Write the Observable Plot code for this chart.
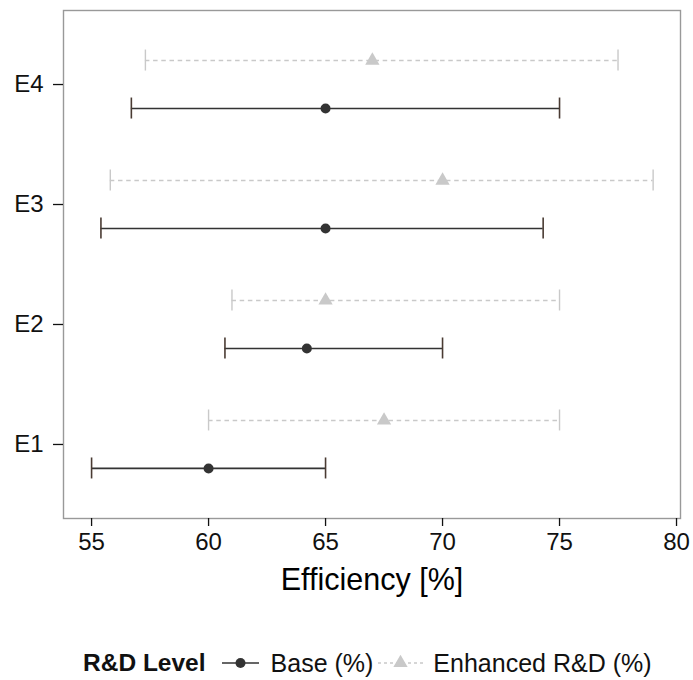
<!DOCTYPE html>
<html>
<head>
<meta charset="utf-8">
<script src="https://cdn.jsdelivr.net/npm/d3@7"></script>
<script src="https://cdn.jsdelivr.net/npm/@observablehq/plot@0.6"></script>
<style>
  html, body { margin: 0; padding: 0; background: #fff; }
  body { width: 693px; height: 680px; overflow: hidden; font-family: "Liberation Sans", Arial, sans-serif; }
  #legend { display: flex; align-items: center; height: 30px; margin-top: 38px; padding-left: 83px; font-size: 25px; color: #111; white-space: nowrap; }
  #legend b { margin-right: 16px; font-size: 24.5px; }
  #legend svg { display: block; }
</style>
</head>
<body>
<div id="chart"></div>
<div id="legend"></div>
<script>
// ---- data ----
const categories = ["E1", "E2", "E3", "E4"];
const series = ["Base (%)", "Enhanced R&D (%)"];
const baseMid = [60, 64.2, 65, 65];
const baseLo  = [55, 60.7, 55.4, 56.7];
const baseHi  = [65, 70, 74.3, 75];
const enhMid  = [67.5, 65, 70, 67];
const enhLo   = [60, 61, 55.8, 57.3];
const enhHi   = [75, 75, 79, 77.5];
const xTicks  = [55, 60, 65, 70, 75, 80];
const axisTitle = "Efficiency [%]";
const legendTitle = "R&D Level";

// ---- styling ----
const colBase = "#333333";
const colEnh = "#c9c9c9";
const dodge = 0.2;      // vertical dodge (in category units)
const capHalf = 0.0875; // half cap height (in category units)

const rows = [];
categories.forEach((c, i) => {
  rows.push({cat: c, pos: i + 1 - dodge, series: series[0], mid: baseMid[i], lo: baseLo[i], hi: baseHi[i]});
  rows.push({cat: c, pos: i + 1 + dodge, series: series[1], mid: enhMid[i], lo: enhLo[i], hi: enhHi[i]});
});
const base = rows.filter(d => d.series === series[0]);
const enh = rows.filter(d => d.series === series[1]);

const caps = s => s.flatMap(d => [{x: d.lo, pos: d.pos}, {x: d.hi, pos: d.pos}]);

const chart = Plot.plot({
  width: 693,
  height: 610,
  marginTop: 10,
  marginBottom: 92,
  marginLeft: 63,
  marginRight: 13,
  style: {fontFamily: "'Liberation Sans', Arial, sans-serif", background: "#fff"},
  x: {domain: [53.8, 80.17]},
  y: {domain: [0.383, 4.617]},
  marks: [
    Plot.frame({stroke: "#999", strokeWidth: 1.4}),
    Plot.axisX({ticks: xTicks, tickSize: 8, tickPadding: 6, fontSize: 24, label: null, stroke: "#111", fill: "#111", strokeWidth: 1.3}),
    Plot.axisY({ticks: categories.map((c, i) => i + 1), tickFormat: d => categories[d - 1], tickSize: 10, tickPadding: 10, fontSize: 24, label: null, stroke: "#111", fill: "#111", strokeWidth: 1.3}),
    // enhanced series (dashed, light grey)
    Plot.ruleY(enh, {y: "pos", x1: "lo", x2: "hi", stroke: colEnh, strokeWidth: 1.6, strokeDasharray: "4.5,3.7"}),
    Plot.ruleX(caps(enh), {x: "x", y1: d => d.pos - capHalf, y2: d => d.pos + capHalf, stroke: colEnh, strokeWidth: 1.4}),
    Plot.dot(enh, {x: "mid", y: "pos", symbol: "triangle", r: 5.3, fill: colEnh, stroke: "none"}),
    // base series (solid, dark)
    Plot.ruleY(base, {y: "pos", x1: "lo", x2: "hi", stroke: colBase, strokeWidth: 1.7}),
    Plot.ruleX(caps(base), {x: "x", y1: d => d.pos - capHalf, y2: d => d.pos + capHalf, stroke: "#4a3b33", strokeWidth: 1.6}),
    Plot.dot(base, {x: "mid", y: "pos", symbol: "circle", r: 5, fill: colBase, stroke: "none"}),
    // axis title
    Plot.text([axisTitle], {frameAnchor: "bottom", dy: 62, fontSize: 30.5, fill: "#000", lineAnchor: "middle"})
  ]
});
document.getElementById("chart").appendChild(chart);

// ---- legend ----
const legend = document.getElementById("legend");
const t = document.createElement("b");
t.textContent = legendTitle;
legend.appendChild(t);

function glyph(kind, w) {
  const ns = "http://www.w3.org/2000/svg";
  const s = document.createElementNS(ns, "svg");
  s.setAttribute("width", w); s.setAttribute("height", 20);
  const l = document.createElementNS(ns, "line");
  l.setAttribute("x1", 0); l.setAttribute("x2", w); l.setAttribute("y1", 10); l.setAttribute("y2", 10);
  l.setAttribute("stroke", kind === 0 ? colBase : colEnh);
  l.setAttribute("stroke-width", 1.7);
  if (kind === 1) l.setAttribute("stroke-dasharray", "3,3");
  s.appendChild(l);
  const sym = document.createElementNS(ns, "path");
  sym.setAttribute("d", d3.symbol(kind === 0 ? d3.symbolCircle : d3.symbolTriangle, Math.PI * (kind === 0 ? 25 : 28))());
  sym.setAttribute("transform", `translate(${w / 2},10)`);
  sym.setAttribute("fill", kind === 0 ? colBase : colEnh);
  s.appendChild(sym);
  return s;
}
const g0 = glyph(0, 37); g0.style.marginRight = "12px"; legend.appendChild(g0);
const s0 = document.createElement("span"); s0.textContent = series[0]; s0.style.marginRight = "5px"; legend.appendChild(s0);
const g1 = glyph(1, 45); g1.style.marginRight = "10px"; legend.appendChild(g1);
const s1 = document.createElement("span"); s1.textContent = series[1]; legend.appendChild(s1);
</script>
</body>
</html>
